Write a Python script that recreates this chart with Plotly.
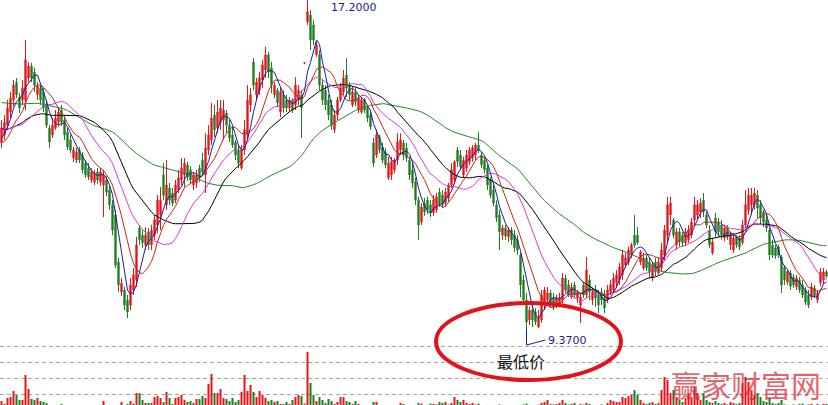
import pandas as pd
import plotly.graph_objects as go

# ---- daily bars (276 sessions) ----
opens = [
    13.81, 14.00, 14.23, 14.54, 14.83, 15.25, 14.90, 14.83, 14.83, 15.35,
    15.63, 15.49, 14.95, 15.11, 15.02, 14.71, 14.16, 14.00, 14.16, 14.30,
    14.59, 14.35, 14.07, 13.88, 13.45, 13.40, 13.64, 13.52, 13.33, 13.21,
    12.93, 12.88, 13.12, 12.88, 12.81, 12.93, 12.69, 12.34, 12.10, 10.98,
    10.27, 10.32, 10.08, 9.96, 10.32, 10.56, 11.79, 11.62, 11.39, 11.70,
    11.39, 11.62, 11.86, 12.10, 13.05, 12.34, 12.74, 12.62, 12.45, 12.69,
    12.93, 13.05, 13.29, 13.17, 12.81, 12.86, 13.21, 13.40, 13.05, 13.64,
    13.88, 14.47, 14.16, 14.30, 14.35, 14.52, 14.23, 14.00, 13.83, 13.64,
    13.21, 13.64, 14.00, 14.71, 15.73, 14.95, 15.06, 15.30, 15.54, 15.90,
    15.59, 14.95, 15.06, 14.54, 14.95, 14.83, 14.64, 14.83, 14.71, 14.83,
    14.95, 15.70, 16.68, 16.84, 16.61, 15.90, 15.90, 15.18, 15.06, 14.83,
    14.71, 14.12, 14.47, 14.83, 15.02, 15.42, 15.18, 14.71, 15.02, 14.59,
    14.54, 14.83, 14.64, 14.47, 13.81, 13.52, 13.95, 13.71, 13.59, 12.98,
    13.05, 13.17, 13.40, 13.64, 13.81, 13.69, 13.40, 13.17, 12.88, 12.45,
    11.93, 12.38, 12.45, 12.34, 12.15, 12.22, 12.64, 12.57, 12.38, 12.50,
    12.81, 12.93, 13.64, 13.52, 13.05, 13.21, 13.36, 13.45, 13.52, 13.76,
    13.52, 13.40, 13.21, 12.93, 12.69, 12.34, 12.10, 11.62, 11.79, 11.58,
    11.74, 11.62, 11.51, 11.15, 10.56, 10.08, 9.61, 9.84, 9.80, 9.44,
    9.61, 10.01, 10.08, 10.25, 10.13, 9.96, 10.01, 10.08, 10.60, 10.44,
    10.15, 10.44, 10.13, 9.96, 10.44, 10.20, 10.56, 10.08, 10.32, 10.20,
    10.27, 10.15, 10.08, 10.27, 10.32, 10.49, 10.56, 10.68, 10.91, 10.98,
    11.15, 11.62, 11.62, 10.98, 10.84, 11.08, 10.98, 10.60, 10.98, 10.72,
    10.84, 11.15, 11.62, 12.10, 11.98, 11.39, 11.70, 11.62, 11.44, 11.51,
    11.62, 11.98, 12.10, 12.17, 12.45, 12.10, 11.74, 11.20, 12.03, 11.93,
    11.86, 11.55, 11.79, 11.39, 11.27, 11.58, 11.55, 11.44, 11.86, 12.22,
    12.34, 12.34, 12.57, 12.34, 12.17, 11.98, 11.74, 11.39, 11.32, 11.34,
    11.10, 10.86, 10.51, 10.72, 10.63, 10.39, 10.56, 10.44, 10.32, 10.20,
    10.15, 10.37, 10.08, 10.49, 10.56, 10.75,
]
highs = [
    14.35, 14.47, 14.83, 15.02, 15.30, 15.35, 14.99, 15.30, 16.25, 15.73,
    15.71, 15.59, 15.25, 15.18, 15.11, 14.83, 14.23, 14.40, 14.59, 14.64,
    14.71, 14.47, 14.16, 14.00, 13.71, 13.69, 13.71, 13.59, 13.40, 13.33,
    13.21, 13.17, 13.21, 13.21, 13.17, 13.02, 12.79, 12.45, 12.22, 11.08,
    10.60, 10.39, 10.20, 10.60, 10.84, 11.58, 11.86, 11.74, 11.81, 11.79,
    11.86, 12.10, 12.57, 12.76, 13.33, 13.40, 12.86, 12.74, 12.93, 13.17,
    13.45, 13.45, 13.36, 13.26, 13.12, 13.17, 13.29, 13.57, 14.04, 14.23,
    14.76, 14.71, 14.83, 14.83, 14.83, 14.59, 14.35, 14.19, 13.88, 13.76,
    13.76, 14.35, 15.18, 15.11, 15.82, 15.35, 15.49, 15.78, 16.09, 15.97,
    15.73, 15.25, 15.11, 15.14, 15.06, 14.95, 14.90, 14.87, 15.37, 15.18,
    15.06, 15.71, 17.20, 16.96, 16.73, 16.20, 16.01, 15.30, 15.18, 14.95,
    14.83, 14.59, 14.90, 15.23, 15.54, 15.82, 15.25, 15.14, 15.11, 14.95,
    14.90, 14.87, 14.71, 14.59, 13.93, 14.12, 14.00, 13.81, 13.69, 13.48,
    13.48, 13.45, 14.04, 14.04, 13.88, 13.81, 13.48, 13.33, 12.98, 12.53,
    12.38, 12.50, 12.53, 12.45, 12.57, 12.62, 12.74, 12.69, 12.74, 12.86,
    13.33, 13.40, 13.71, 13.64, 13.48, 13.64, 13.71, 13.76, 13.81, 14.07,
    13.59, 13.48, 13.29, 13.00, 12.81, 12.45, 12.22, 11.86, 11.86, 11.81,
    11.81, 11.74, 11.62, 11.20, 10.68, 10.25, 9.92, 9.96, 9.89, 9.84,
    10.32, 10.39, 10.39, 10.32, 10.25, 10.20, 10.25, 10.72, 10.68, 10.56,
    10.49, 10.51, 10.32, 10.25, 10.51, 11.10, 10.68, 10.37, 10.44, 10.32,
    10.37, 10.32, 10.44, 10.56, 10.72, 10.79, 10.96, 11.27, 11.20, 11.34,
    11.44, 12.10, 11.81, 11.27, 11.20, 11.15, 11.08, 10.98, 11.08, 11.08,
    11.44, 11.86, 12.53, 12.53, 12.03, 11.79, 11.79, 11.70, 11.79, 11.86,
    12.03, 12.53, 12.45, 12.50, 12.62, 12.17, 11.86, 11.55, 12.15, 12.03,
    11.98, 11.86, 11.86, 11.70, 11.67, 11.62, 11.62, 11.98, 12.69, 12.74,
    12.74, 12.74, 12.69, 12.45, 12.22, 12.10, 11.79, 11.51, 11.39, 11.39,
    11.15, 10.91, 10.79, 10.79, 10.70, 10.68, 10.63, 10.56, 10.39, 10.32,
    10.49, 10.44, 10.32, 10.84, 10.84, 10.79,
]
lows = [
    13.69, 13.88, 14.12, 14.40, 14.68, 14.87, 14.52, 14.71, 14.59, 15.25,
    15.25, 15.02, 14.83, 14.71, 14.54, 14.16, 13.69, 13.93, 14.12, 14.19,
    14.21, 13.88, 13.64, 13.57, 13.36, 13.33, 13.33, 13.09, 12.98, 12.93,
    12.86, 12.81, 12.83, 12.79, 12.05, 12.55, 12.22, 11.62, 10.84, 10.27,
    10.18, 9.84, 9.65, 9.84, 10.20, 10.39, 11.39, 11.32, 11.27, 11.27,
    11.27, 11.51, 11.67, 11.74, 12.45, 12.22, 12.34, 12.31, 12.38, 12.62,
    12.81, 12.76, 12.91, 12.83, 12.69, 12.74, 12.88, 13.05, 12.62, 13.52,
    13.76, 13.95, 14.04, 14.12, 13.88, 14.04, 13.83, 13.69, 13.40, 13.21,
    13.17, 13.52, 13.88, 14.54, 15.06, 14.83, 14.95, 15.11, 15.35, 15.35,
    14.99, 14.87, 14.66, 14.42, 14.52, 14.54, 14.54, 14.52, 14.59, 14.71,
    13.93, 15.70, 16.61, 16.01, 16.13, 15.85, 15.06, 14.71, 14.59, 14.35,
    14.12, 14.04, 14.35, 14.78, 14.95, 14.90, 14.83, 14.66, 14.68, 14.52,
    14.50, 14.52, 14.30, 14.12, 13.24, 13.45, 13.57, 13.33, 13.21, 12.93,
    12.93, 13.09, 13.29, 13.52, 13.40, 13.36, 12.93, 12.74, 12.34, 11.51,
    11.86, 12.08, 12.12, 12.05, 12.08, 12.15, 12.29, 12.26, 12.31, 12.41,
    12.74, 12.83, 13.24, 13.17, 12.98, 13.12, 13.29, 13.36, 13.40, 13.57,
    13.21, 13.09, 12.69, 12.50, 12.31, 11.93, 11.27, 11.51, 11.51, 11.46,
    11.39, 11.22, 11.15, 10.15, 9.96, 9.37, 9.49, 9.44, 9.49, 9.42,
    9.54, 9.84, 9.96, 9.89, 9.84, 9.89, 9.92, 10.01, 10.25, 10.15,
    10.11, 10.13, 10.01, 9.54, 10.13, 10.13, 10.08, 9.96, 9.92, 9.77,
    9.96, 9.77, 10.01, 10.20, 10.25, 10.37, 10.44, 10.56, 10.84, 10.91,
    11.08, 11.32, 11.39, 10.91, 10.79, 10.77, 10.60, 10.53, 10.65, 10.68,
    10.75, 11.03, 11.44, 11.86, 11.55, 11.27, 11.34, 11.34, 11.36, 11.44,
    11.55, 11.86, 11.98, 12.03, 12.05, 11.79, 11.32, 11.15, 11.58, 11.58,
    11.51, 11.48, 11.51, 11.27, 11.20, 11.32, 11.27, 11.39, 11.79, 12.10,
    12.10, 12.22, 12.03, 11.86, 11.81, 11.70, 11.03, 11.08, 11.06, 11.08,
    10.25, 10.44, 10.44, 10.32, 10.37, 10.32, 10.25, 10.13, 9.96, 9.89,
    10.08, 10.13, 10.01, 10.41, 10.46, 10.60,
]
closes = [
    14.16, 14.30, 14.64, 14.87, 15.18, 14.95, 14.64, 15.11, 15.78, 15.63,
    15.35, 15.18, 15.16, 14.83, 14.64, 14.23, 13.83, 14.23, 14.40, 14.54,
    14.30, 14.00, 13.71, 13.64, 13.64, 13.59, 13.40, 13.17, 13.05, 13.00,
    13.12, 13.09, 12.93, 13.12, 13.05, 12.64, 12.34, 11.74, 10.91, 10.44,
    10.48, 9.96, 9.80, 10.44, 10.68, 11.39, 11.51, 11.44, 11.62, 11.39,
    11.74, 11.98, 12.45, 12.45, 12.57, 12.81, 12.45, 12.38, 12.81, 12.98,
    13.21, 13.33, 13.00, 12.93, 13.05, 13.05, 12.98, 13.12, 13.69, 14.00,
    14.40, 14.12, 14.54, 14.64, 14.59, 14.23, 13.93, 13.76, 13.52, 13.33,
    13.64, 14.12, 14.83, 14.95, 15.18, 15.25, 15.35, 15.66, 15.90, 15.49,
    15.18, 15.18, 14.76, 15.02, 14.64, 14.64, 14.83, 14.59, 15.18, 15.06,
    14.64, 15.71, 16.92, 16.25, 16.25, 16.13, 15.18, 14.83, 14.71, 14.47,
    14.23, 14.47, 14.83, 15.11, 15.35, 15.11, 14.95, 15.02, 14.78, 14.87,
    14.83, 14.59, 14.40, 14.19, 13.33, 14.00, 13.64, 13.40, 13.29, 13.33,
    13.36, 13.40, 13.83, 13.88, 13.52, 13.45, 13.05, 12.86, 12.45, 11.86,
    12.29, 12.17, 12.22, 12.15, 12.45, 12.53, 12.38, 12.34, 12.64, 12.81,
    13.17, 13.36, 13.36, 13.24, 13.40, 13.52, 13.64, 13.69, 13.76, 13.64,
    13.29, 13.17, 12.81, 12.57, 12.38, 12.03, 11.70, 11.79, 11.60, 11.74,
    11.51, 11.32, 11.27, 10.44, 10.08, 9.56, 9.84, 9.61, 9.56, 9.65,
    10.20, 10.32, 10.25, 10.01, 9.92, 10.13, 10.15, 10.60, 10.32, 10.20,
    10.39, 10.20, 10.27, 10.15, 10.20, 10.79, 10.27, 10.27, 10.13, 9.96,
    10.08, 9.89, 10.32, 10.44, 10.60, 10.68, 10.86, 11.15, 11.08, 11.27,
    11.39, 11.39, 11.44, 11.22, 11.08, 10.84, 10.75, 10.91, 10.75, 10.98,
    11.27, 11.74, 12.34, 12.38, 11.62, 11.70, 11.46, 11.44, 11.70, 11.74,
    11.93, 12.34, 12.34, 12.38, 12.17, 11.86, 11.39, 11.46, 11.70, 11.70,
    11.62, 11.79, 11.58, 11.62, 11.55, 11.39, 11.34, 11.86, 12.34, 12.57,
    12.57, 12.62, 12.26, 12.03, 11.93, 11.79, 11.15, 11.15, 11.13, 11.15,
    10.44, 10.56, 10.75, 10.41, 10.44, 10.60, 10.32, 10.20, 10.03, 9.96,
    10.39, 10.18, 10.25, 10.75, 10.75, 10.65,
]
# turnover, in 10k lots
volumes = [
    5.6, 3.8, 7.5, 8.1, 11.9, 9.4, 6.3, 6.3, 21.9, 13.1,
    6.9, 6.3, 7.5, 5.6, 5.0, 4.4, 2.5, 2.0, 2.8, 2.2,
    3.8, 2.4, 2.0, 2.6, 1.8, 2.2, 2.5, 1.9, 2.1, 2.4,
    2.0, 1.7, 2.3, 2.6, 5.6, 2.8, 2.4, 2.9, 2.7, 3.0,
    5.0, 2.9, 3.8, 5.6, 4.0, 10.6, 10.6, 6.3, 4.4, 4.4,
    4.4, 8.1, 8.8, 7.5, 5.0, 11.3, 7.5, 3.8, 7.5, 8.1,
    9.4, 6.3, 5.0, 5.6, 4.4, 6.9, 6.9, 8.8, 7.5, 16.3,
    22.5, 10.6, 10.6, 13.1, 7.5, 6.9, 5.6, 7.5, 5.0, 6.3,
    11.3, 21.9, 11.9, 15.6, 11.3, 8.1, 11.9, 9.4, 7.5, 5.6,
    6.3, 5.0, 5.6, 3.8, 3.8, 5.0, 3.8, 6.3, 8.1, 9.4,
    8.8, 4.0, 36.3, 16.9, 9.4, 5.6, 8.1, 6.3, 4.4, 6.9,
    5.6, 3.8, 5.0, 8.1, 8.1, 5.6, 5.0, 3.8, 5.6, 3.8,
    2.5, 2.0, 2.8, 2.3, 5.0, 5.0, 2.5, 2.2, 2.6, 2.4,
    2.1, 2.7, 3.0, 4.4, 3.8, 2.5, 2.8, 2.6, 3.0, 4.4,
    4.0, 2.8, 3.2, 4.0, 3.8, 3.5, 5.0, 4.4, 5.0, 3.5,
    4.4, 8.1, 6.3, 5.0, 6.3, 4.4, 3.8, 4.4, 3.5, 4.0,
    3.0, 2.8, 3.2, 2.8, 3.0, 2.6, 3.5, 2.8, 2.5, 3.0,
    2.6, 2.8, 2.4, 3.2, 3.5, 4.0, 3.2, 3.0, 2.6, 3.3,
    4.4, 5.0, 6.3, 3.8, 3.5, 3.8, 4.4, 6.3, 4.4, 3.5,
    3.8, 4.4, 3.2, 3.8, 3.5, 4.4, 3.8, 3.2, 2.8, 3.0,
    3.5, 3.2, 4.4, 6.3, 5.6, 5.0, 5.0, 8.1, 7.5, 8.8,
    9.4, 12.5, 9.4, 6.3, 4.4, 3.8, 4.4, 5.0, 3.8, 4.4,
    12.5, 20.6, 18.8, 10.6, 12.5, 8.1, 6.3, 5.0, 7.5, 10.6,
    8.1, 14.4, 10.6, 6.3, 10.6, 6.3, 5.0, 4.4, 5.6, 4.4,
    3.8, 4.4, 3.5, 5.0, 4.4, 3.8, 4.4, 16.9, 20.6, 17.5,
    12.5, 9.4, 10.6, 8.1, 5.6, 5.0, 7.5, 4.4, 3.8, 4.4,
    6.3, 3.5, 3.2, 3.0, 3.5, 3.2, 3.8, 4.0, 3.2, 3.5,
    3.8, 3.0, 3.8, 2.5, 3.8, 3.8,
]
# closes of the 60 sessions before the first bar, needed to seed the averages
earlier_closes = [
    14.95, 15.02, 15.11, 15.06, 15.18, 15.30, 15.21, 15.11, 15.02, 15.16,
    15.25, 15.35, 15.18, 15.06, 15.11, 15.21, 15.30, 15.16, 15.06, 15.18,
    15.42, 15.59, 15.78, 15.90, 16.01, 16.06, 15.97, 15.90, 15.78, 15.66,
    15.30, 14.95, 14.59, 14.35, 14.12, 13.88, 13.76, 13.88, 14.00, 14.12,
    14.23, 14.35, 14.47, 14.59, 14.54, 14.40, 14.47, 14.59, 14.54, 14.35,
    14.23, 14.00, 13.76, 13.64, 13.52, 13.64, 13.76, 13.88, 13.93, 13.88,
]

n = len(closes)
for arr in (opens, highs, lows, volumes):
    assert len(arr) == n, len(arr)
assert len(earlier_closes) == 60

ma_periods = [60, 30, 20, 10, 5]
ma_colors = {5: "#1c1ca6", 10: "#c4281c", 20: "#d43cd4", 30: "#000000", 60: "#2a842a"}
UP = "#e4161a"
DOWN = "#1f7d1f"

W, H = 828, 405
idx = list(range(n))

# price scale: highest high touches the top edge, lowest low sits 330px down
hi = max(highs)
lo = min(lows)
px = (hi - lo) / 330.0           # price per pixel
y_top = hi
y_bot = hi - H * px

# volume scale: 1.6px per unit, baseline just below the bottom edge
v_per_px = 1 / 1.6
v_bot = 5 * v_per_px
v_top = v_bot + H * v_per_px

hist = pd.Series(earlier_closes + closes)
ma = {p: hist.rolling(p).mean().iloc[-n:].tolist() for p in ma_periods}

fig = go.Figure()

vol_colors = [UP if c >= o else DOWN for o, c in zip(opens, closes)]
fig.add_trace(go.Bar(x=idx, y=volumes, marker=dict(color=vol_colors, line=dict(width=0)),
                     width=0.67, yaxis="y2", hoverinfo="skip"))

fig.add_trace(go.Candlestick(
    x=idx, open=opens, high=highs, low=lows, close=closes,
    increasing=dict(line=dict(color=UP, width=1), fillcolor=UP),
    decreasing=dict(line=dict(color=DOWN, width=1), fillcolor=DOWN),
    whiskerwidth=0, hoverinfo="skip"))

for p in ma_periods:
    fig.add_trace(go.Scatter(x=idx, y=ma[p], mode="lines",
                             line=dict(color=ma_colors[p], width=1), hoverinfo="skip"))

# annotations for the extreme prices
hi_i = highs.index(hi)
lo_i = lows.index(lo)
LABEL_BLUE = "#1a1a9c"

fig.add_annotation(x=hi_i + 7, y=hi, text=f"{hi:.4f}", showarrow=False,
                   xanchor="left", yanchor="top", yshift=1,
                   font=dict(family="DejaVu Sans", size=11, color=LABEL_BLUE))

fig.add_shape(type="path", xref="x", yref="y",
              path=(f"M {lo_i},{lo} L {lo_i},{lo - 15 * px} "
                    f"L {lo_i + 6.3},{lo - 10 * px}"),
              line=dict(color=LABEL_BLUE, width=1))
fig.add_annotation(x=lo_i + 6.6, y=lo - 10 * px, text=f"{lo:.4f}", showarrow=False,
                   xanchor="left", yanchor="middle",
                   font=dict(family="DejaVu Sans", size=11, color=LABEL_BLUE))

# hand-drawn ring round the low
cx, cy = lo_i + 2 / 3, lo - 11.5 * px
rx, ry = 92.5 / 3, 38.5 * px
fig.add_shape(type="circle", xref="x", yref="y",
              x0=cx - rx, x1=cx + rx, y0=cy - ry, y1=cy + ry,
              line=dict(color="#e3121a", width=4))
fig.add_annotation(x=lo_i - 2, y=lo - 31 * px, text="最低价", showarrow=False,
                   xanchor="center", yanchor="middle",
                   font=dict(family="Noto Sans CJK SC", size=16, color="#111111"))

# site mark in the lower right corner
fig.add_annotation(x=746 / W, y=1 - 384 / H, xref="paper", yref="paper",
                   xanchor="center", yanchor="middle",
                   text="赢家财富网", showarrow=False,
                   font=dict(family="Noto Sans CJK SC", size=30, color="rgba(220,40,50,0.72)"))

fig.update_layout(
    width=W, height=H, margin=dict(l=0, r=0, t=0, b=0),
    paper_bgcolor="white", plot_bgcolor="white", showlegend=False,
    boxgap=0.4,
    xaxis=dict(range=[-0.5, n - 0.5], visible=False, rangeslider=dict(visible=False)),
    yaxis=dict(range=[y_bot, y_top], visible=False),
    yaxis2=dict(range=[v_bot, v_top], overlaying="y", showgrid=True,
                gridcolor="#a6a6a6", gridwidth=1, griddash="4px,3px",
                tickvals=[10, 20, 30, 40], showticklabels=False,
                ticks="", zeroline=False, showline=False),
)

fig.write_html("out.html")
